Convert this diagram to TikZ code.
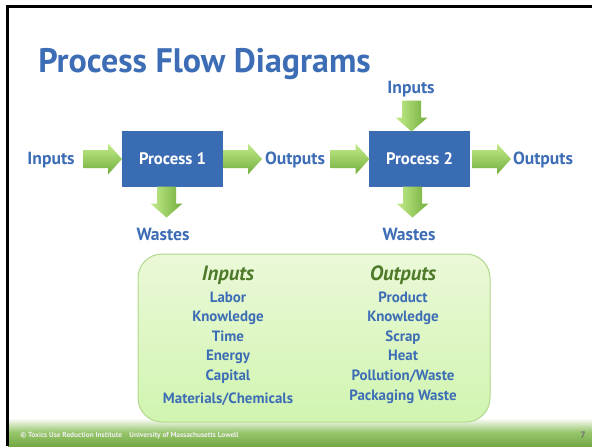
\documentclass[tikz,border=0pt]{standalone}
\usepackage{fontspec}
\setmainfont{PT Sans}
\definecolor{tblue}{HTML}{3D6DB5}
\definecolor{pbox}{HTML}{3A6CB3}
\definecolor{hgreen}{HTML}{4E7A2A}
\definecolor{agl}{HTML}{C4EC8C}
\definecolor{agd}{HTML}{72AE3C}
\definecolor{boxtop}{HTML}{EBF8D8}
\definecolor{boxbot}{HTML}{D0F5B0}
\definecolor{boxedge}{HTML}{B2D88C}
\definecolor{footm}{HTML}{98C66C}
\definecolor{footb}{HTML}{74A946}
\def\px{0.75pt}
\tikzset{
  lbl/.style={font=\bfseries\fontsize{13.2}{15}\selectfont, text=tblue, inner sep=0pt},
  procbox/.style={fill=pbox, minimum width=101*\px, minimum height=56*\px, inner sep=0pt,
    text=white, font=\bfseries\fontsize{12.5}{14}\selectfont},
  hdr/.style={font=\bfseries\itshape\fontsize{15.5}{17}\selectfont, text=hgreen, inner sep=0pt, anchor=base},
  item/.style={font=\bfseries\fontsize{11.2}{13}\selectfont, text=tblue, inner sep=0pt, anchor=base},
  rshade/.style={top color=agl, bottom color=agd},
  dshade/.style={left color=agl, right color=agd},
  pics/rarr/.style={code={
    \coordinate (-c) at (0,0);
    \shade[rshade] (-19.5,-9) -- (5.5,-9) -- (5.5,-15.5) -- (19.5,0) -- (5.5,15.5) -- (5.5,9) -- (-19.5,9) -- cycle;
  }},
  pics/darr/.style={code={
    \coordinate (-c) at (0,0);
    \shade[dshade] (-9.5,-15.5) -- (9.5,-15.5) -- (9.5,1.5) -- (16,1.5) -- (0,15.5) -- (-16,1.5) -- (-9.5,1.5) -- cycle;
  }},
}
\begin{document}
\begin{tikzpicture}[x=0.75pt,y=-0.75pt]
\useasboundingbox (0,0) rectangle (592,446);
\fill[white] (0,0) rectangle (592,446);
% footer
\shade[top color=white, bottom color=footb, middle color=footm] (8,418) rectangle (592,446);
\draw[line width=2.2*\px, black] (7.5,446) -- (7.5,6.5) -- (592,6.5);
\node[anchor=west, inner sep=0pt, text=white!88!gray, font=\bfseries\fontsize{5.5}{6}\selectfont] (foot) at (20,436) {© Toxics Use Reduction Institute\quad University of Massachusetts Lowell};
\node[inner sep=0pt, text=black!55, font=\bfseries\fontsize{7}{8}\selectfont] (pg) at (583,435) {7};
% title
\node[anchor=base west, inner sep=0pt, text=tblue, font=\bfseries\fontsize{25.5}{30}\selectfont] (title) at (38,72) {Process Flow Diagrams};
% processes
\node[procbox] (p1) at (172.5,159) {Process 1};
\node[procbox] (p2) at (419.5,159) {Process 2};
\pic (a1) at (102.5,159) {rarr};
\pic (a2) at (242.5,159) {rarr};
\pic (a3) at (350,159) {rarr};
\pic (a4) at (491.5,159) {rarr};
\pic (d1) at (166.5,202) {darr};
\pic (d2) at (412.5,202) {darr};
\pic (d3) at (411.5,116) {darr};
\node[lbl] (in1) at (51,160) {Inputs};
\node[lbl] (out1) at (295,160) {Outputs};
\node[lbl] (out2) at (543,160) {Outputs};
\node[lbl] (in2) at (411,89) {Inputs};
\node[lbl] (w1) at (163,234) {Wastes};
\node[lbl] (w2) at (409,234) {Wastes};
% green box
\shade[top color=boxtop, bottom color=boxbot, draw=boxedge, line width=1*\px, rounded corners=24*\px] (138,254) rectangle (490,422);
\node[hdr] (hin) at (228,280) {Inputs};
\node[hdr] (hout) at (403,280) {Outputs};
\node[item] (i1) at (228,302) {Labor};
\node[item] (i2) at (228,321.5) {Knowledge};
\node[item] (i3) at (228,341) {Time};
\node[item] (i4) at (228,360.5) {Energy};
\node[item] (i5) at (228,380) {Capital};
\node[item] (i6) at (228,403.5) {Materials/Chemicals};
\node[item] (o1) at (403,302) {Product};
\node[item] (o2) at (403,321.5) {Knowledge};
\node[item] (o3) at (403,341) {Scrap};
\node[item] (o4) at (403,360.5) {Heat};
\node[item] (o5) at (403,380) {Pollution/Waste};
\node[item] (o6) at (403,400) {Packaging Waste};
\end{tikzpicture}
\end{document}
